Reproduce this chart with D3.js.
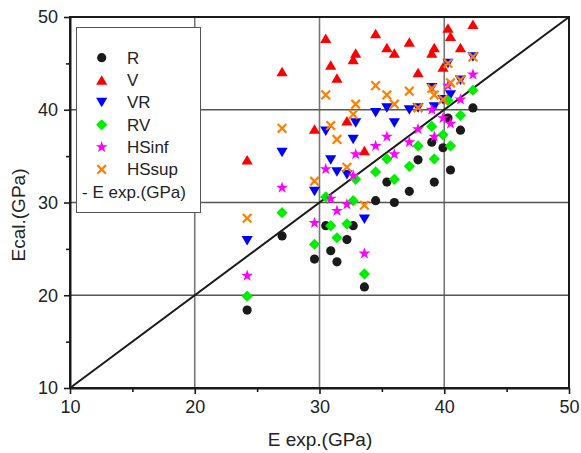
<!DOCTYPE html>
<html>
<head>
<meta charset="utf-8">
<script src="https://cdn.jsdelivr.net/npm/d3@7"></script>
<style>
  body { margin: 0; background: #fff; }
  svg { display: block; font-family: "Liberation Sans", Arial, sans-serif; }
</style>
</head>
<body>
<svg id="chart" width="581" height="453"></svg>
<script>
// [E exp, E cal] pairs, GPa
var dataR = [[24.2,18.4],[27.0,26.4],[29.6,23.9],[30.5,27.5],[30.9,24.8],[31.4,23.6],[32.2,26.0],[32.7,27.5],
  [33.6,20.9],[34.5,30.2],[35.4,32.2],[36.0,30.0],[37.2,31.2],[37.9,34.6],[39.0,36.5],[39.2,32.2],
  [39.9,35.9],[40.3,39.1],[40.5,33.5],[41.3,37.8],[42.3,40.2]];
var dataV = [[24.2,34.6],[27.0,44.1],[29.6,37.9],[30.5,47.7],[30.9,44.8],[31.4,43.4],[32.2,38.8],[32.7,45.4],
  [32.9,46.1],[33.6,35.6],[34.5,48.2],[35.4,46.7],[36.0,46.1],[37.2,47.3],[37.9,44.0],[39.0,46.1],
  [39.2,46.7],[39.9,44.6],[40.3,48.8],[40.5,47.9],[41.3,46.7],[42.3,49.2]];
var dataVR = [[24.2,25.9],[27.0,35.4],[29.6,31.2],[30.5,37.7],[30.9,34.6],[31.4,33.3],[32.2,33.0],[32.7,36.8],
  [32.9,38.6],[33.6,28.2],[34.5,39.7],[35.4,40.2],[36.0,38.6],[37.2,40.0],[37.9,40.2],[39.0,42.4],
  [39.2,40.3],[39.9,41.1],[40.3,45.0],[40.5,41.6],[41.3,43.2],[42.3,45.7]];
var dataRV = [[24.2,19.9],[27.0,28.9],[29.6,25.5],[30.5,30.6],[30.9,27.5],[31.4,26.2],[32.2,27.7],[32.7,30.2],
  [32.9,32.5],[33.6,22.3],[34.5,33.3],[35.4,34.7],[36.0,32.5],[37.2,33.9],[37.9,36.1],[39.0,38.2],
  [39.2,34.7],[39.9,37.3],[40.3,41.0],[40.5,36.1],[41.3,39.4],[42.3,42.1]];
var dataHSinf = [[24.2,22.1],[27.0,31.6],[29.6,27.8],[30.5,33.6],[30.9,30.4],[31.4,29.1],[32.2,29.8],[32.7,32.9],
  [32.9,35.2],[33.6,24.5],[34.5,36.1],[35.4,37.1],[36.0,35.2],[37.2,36.5],[37.9,37.9],[39.0,40.0],
  [39.2,37.1],[39.9,39.1],[40.3,42.6],[40.5,38.5],[41.3,41.1],[42.3,43.8]];
var dataHSsup = [[24.2,28.3],[27.0,38.0],[29.6,32.3],[30.5,41.6],[30.9,38.3],[31.4,36.8],[32.2,33.8],[32.7,39.5],
  [32.9,40.6],[33.6,29.7],[34.5,42.6],[35.4,41.6],[36.0,40.6],[37.2,42.0],[37.9,40.2],[39.0,42.3],
  [39.2,41.6],[39.9,41.1],[40.3,45.0],[40.5,42.9],[41.3,43.2],[42.3,45.7]];

var seriesNames = ["R", "V", "VR", "RV", "HSinf", "HSsup"];
var majorTicks = [10, 20, 30, 40, 50];
var minorTicks = [15, 25, 35, 45];
var refLine = [10, 50];

var series = [
  {name: "R",     data: dataR,     color: "#1a1a1a", shape: "circle"},
  {name: "V",     data: dataV,     color: "#ff0000", shape: "up"},
  {name: "VR",    data: dataVR,    color: "#0000ff", shape: "down"},
  {name: "RV",    data: dataRV,    color: "#00ee00", shape: "diamond"},
  {name: "HSinf", data: dataHSinf, color: "#ff00ff", shape: "star"},
  {name: "HSsup", data: dataHSsup, color: "#ff8000", shape: "cross"}
];

var svg = d3.select("#chart");
var x = d3.scaleLinear().domain([10, 50]).range([70, 569]);
var y = d3.scaleLinear().domain([10, 50]).range([388, 17]);

function shapePath(shape)
{
  if (shape == "circle") return d3.symbol().type(d3.symbolCircle).size(66)();
  if (shape == "up") return "M0,-4.9L5.6,4.6L-5.6,4.6Z";
  if (shape == "down") return "M0,4.9L5.6,-4.6L-5.6,-4.6Z";
  if (shape == "diamond") return "M0,-5.6L5.6,0L0,5.6L-5.6,0Z";
  if (shape == "star") return d3.symbol().type(d3.symbolStar).size(44)();
  return "M-4.3,-4.3L4.3,4.3M-4.3,4.3L4.3,-4.3";
}

function drawSymbol(sel, s)
{
  var p = sel.append("path").attr("d", shapePath(s.shape));
  if (s.shape == "cross")
    p.attr("fill", "none").attr("stroke", s.color).attr("stroke-width", 2.2);
  else
    p.attr("fill", s.color);
}

// grid
var grid = svg.append("g");
grid.selectAll(".gx").data([20, 30, 40]).enter().append("line")
    .attr("x1", function (d) { return x(d); }).attr("x2", function (d) { return x(d); })
    .attr("y1", y(10)).attr("y2", y(50))
    .attr("stroke", "#777").attr("stroke-width", 1.6);
grid.selectAll(".gy").data([20, 30, 40]).enter().append("line")
    .attr("y1", function (d) { return y(d); }).attr("y2", function (d) { return y(d); })
    .attr("x1", x(10)).attr("x2", x(50))
    .attr("stroke", "#555").attr("stroke-width", 1.4);

// y = x reference
svg.append("line")
   .attr("x1", x(refLine[0])).attr("y1", y(refLine[0]))
   .attr("x2", x(refLine[1])).attr("y2", y(refLine[1]))
   .attr("stroke", "#1a1a1a").attr("stroke-width", 2);

// points
series.forEach(function (s)
{
  var g = svg.append("g");
  s.data.forEach(function (d)
  {
    var pt = g.append("g").attr("transform", "translate(" + x(d[0]) + "," + y(d[1]) + ")");
    drawSymbol(pt, s);
  });
});

// frame
svg.append("rect")
   .attr("x", x(10)).attr("y", y(50))
   .attr("width", x(50) - x(10)).attr("height", y(10) - y(50))
   .attr("fill", "none").attr("stroke", "#1a1a1a").attr("stroke-width", 2);

// axes
var xAxis = svg.append("g").attr("transform", "translate(0," + y(10) + ")")
               .call(d3.axisBottom(x).tickValues(majorTicks).tickSize(6).tickSizeOuter(0).tickPadding(6));
svg.append("g").attr("transform", "translate(0," + y(10) + ")")
   .call(d3.axisBottom(x).tickValues(minorTicks).tickSize(4).tickFormat(""))
   .select(".domain").remove();
var yAxis = svg.append("g").attr("transform", "translate(" + x(10) + ",0)")
               .call(d3.axisLeft(y).tickValues(majorTicks).tickSize(6).tickSizeOuter(0).tickPadding(6));
svg.append("g").attr("transform", "translate(" + x(10) + ",0)")
   .call(d3.axisLeft(y).tickValues(minorTicks).tickSize(4).tickFormat(""))
   .select(".domain").remove();

svg.selectAll(".domain").attr("stroke", "#1a1a1a").attr("stroke-width", 2);
svg.selectAll(".tick line").attr("stroke", "#1a1a1a").attr("stroke-width", 1.6);
svg.selectAll(".tick text").attr("font-size", 18).attr("fill", "#222")
   .attr("font-family", "Liberation Sans, Arial, sans-serif");

// axis titles
svg.append("text").attr("x", 320).attr("y", 446).attr("text-anchor", "middle")
   .attr("font-size", 19).attr("fill", "#222").text("E exp.(GPa)");
svg.append("text").attr("transform", "translate(25,215) rotate(-90)").attr("text-anchor", "middle")
   .attr("font-size", 19).attr("fill", "#222").text("Ecal.(GPa)");

// legend
var legend = svg.append("g");
legend.append("rect").attr("x", 76.5).attr("y", 27.5).attr("width", 124).attr("height", 185)
      .attr("fill", "#fff").attr("stroke", "#555").attr("stroke-width", 1);
series.forEach(function (s, i)
{
  var cy = 57.7 + i * 22.35;
  var pt = legend.append("g").attr("transform", "translate(101.7," + cy + ")");
  drawSymbol(pt, s);
  legend.append("text").attr("x", 127).attr("y", cy + 6).attr("font-size", 17).attr("fill", "#222")
        .text(seriesNames[i]);
});
legend.append("text").attr("x", 82).attr("y", 57.7 + 6 * 22.35 + 6).attr("font-size", 17).attr("fill", "#222")
      .text("- E exp.(GPa)");
</script>
</body>
</html>
